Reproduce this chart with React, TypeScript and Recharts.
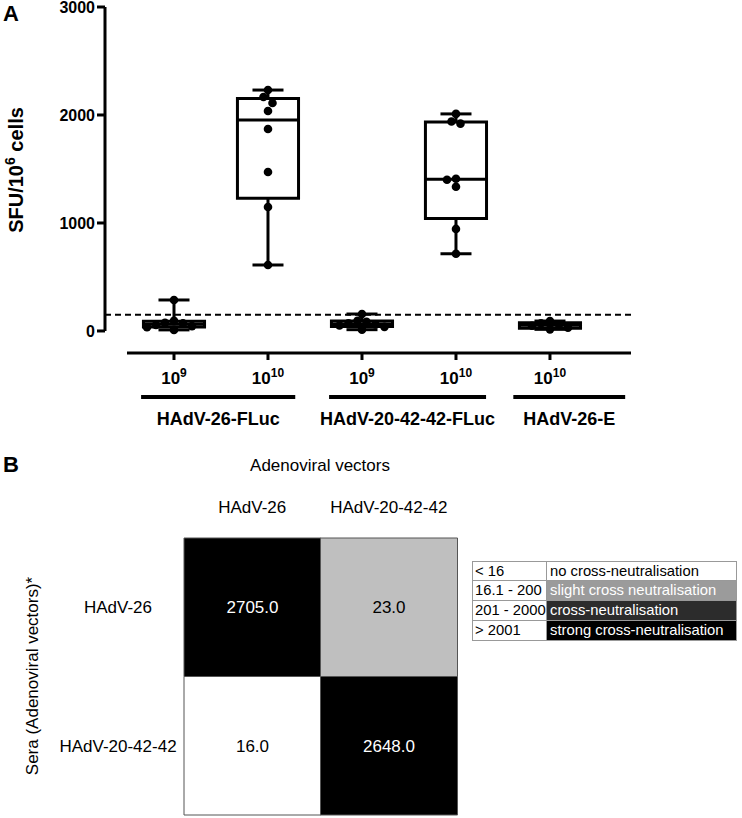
import React from "react";
import {
  ComposedChart, Scatter, XAxis, YAxis, ReferenceLine, ReferenceArea,
  BarChart, Bar, Cell, LabelList,
} from "recharts";

const FONT = "'Liberation Sans', Arial, Helvetica, sans-serif";

// ---- panel A: SFU per 10^6 cells, box + points ----
const groupNames = ["HAdV-26-FLuc", "HAdV-20-42-42-FLuc", "HAdV-26-E"];
const doseExponents = ["9", "10", "9", "10", "10"];
const yTicks = [0, 1000, 2000, 3000];
const cutoff = 150;

const sfu26Low = [287, 95, 75, 70, 55, 45, 35, 10];
const sfu26High = [2231, 2167, 2111, 2037, 1870, 1472, 1148, 611];
const sfu2042Low = [157, 95, 85, 70, 60, 50, 38, 12];
const sfu2042High = [2010, 1940, 1920, 1410, 1400, 1335, 945, 715];
const sfu26E = [92, 72, 60, 48, 30, 15];
const columns = [sfu26Low, sfu26High, sfu2042Low, sfu2042High, sfu26E];

// ---- panel B: cross-neutralisation titers ----
const vectorCols = ["HAdV-26", "HAdV-20-42-42"];
const seraRows = ["HAdV-26", "HAdV-20-42-42"];
const titerSera26 = [2705.0, 23.0];
const titerSera2042 = [16.0, 2648.0];
const legendRanges = ["< 16", "16.1 - 200", "201 - 2000", "> 2001"];
const legendLabels = [
  "no cross-neutralisation",
  "slight cross neutralisation",
  "cross-neutralisation",
  "strong cross-neutralisation",
];
const legendColors = ["#ffffff", "#9b9b9b", "#2c2c2c", "#000000"];

// layout bits
const X_DOMAIN: [number, number] = [-0.734, 4.862];
const Y_DOMAIN: [number, number] = [-204, 3000];
const GROUP_SPANS = [[-0.35, 1.29], [1.65, 3.32], [3.61, 4.8]];
const GROUP_LINE_Y = -611;
const PX_X = 94;
const PX_Y = 0.108;

function quantile(s: number[], p: number) {
  const pos = (s.length + 1) * p - 1;
  const lo = Math.min(s.length - 1, Math.max(0, Math.floor(pos)));
  const hi = Math.min(s.length - 1, lo + 1);
  const f = Math.max(0, pos - Math.floor(pos));
  return s[lo] + (s[hi] - s[lo]) * f;
}

// simple beeswarm so dots don't sit on top of each other
function swarm(values: number[]) {
  const placed: { dx: number; py: number }[] = [];
  const out: { v: number; dx: number }[] = [];
  [...values].sort((a, b) => b - a).forEach((v) => {
    const py = v * PX_Y;
    for (let k = 0; k < 30; k++) {
      const dx = k === 0 ? 0 : (k % 2 ? -1 : 1) * Math.ceil(k / 2) * 4.5;
      if (placed.every((p) => Math.hypot(p.dx - dx, p.py - py) >= 8)) {
        placed.push({ dx, py });
        out.push({ v, dx });
        break;
      }
    }
  });
  return out;
}

const stats = columns.map((vals) => {
  const s = [...vals].sort((a, b) => a - b);
  return { min: s[0], max: s[s.length - 1], q1: quantile(s, 0.25), med: quantile(s, 0.5), q3: quantile(s, 0.75) };
});

const points = columns.flatMap((vals, i) =>
  swarm(vals).map((p) => ({ x: i + p.dx / PX_X, y: p.v })));

const heatData = vectorCols.map((c, i) => ({
  col: c, cellTop: 1, cellBottom: 1, tTop: titerSera26[i], tBottom: titerSera2042[i],
}));

const fillFor = (t: number) => (t <= 16 ? "#ffffff" : t <= 200 ? "#bfbfbf" : t <= 2000 ? "#2c2c2c" : "#000000");
const textFor = (t: number) => (t > 200 ? "#ffffff" : "#000000");

function DoseTick({ x, y, payload }: any) {
  return (
    <text x={x} y={y + 22} textAnchor="middle" fontFamily={FONT} fontWeight={700} fontSize={17} fill="#000">
      10<tspan dy={-7} fontSize={12}>{doseExponents[payload.value]}</tspan>
    </text>
  );
}

function ColTick({ x, payload }: any) {
  return (
    <text x={x} y={67} dy="0.35em" textAnchor="middle" fontFamily={FONT} fontSize={17} fill="#000">
      {payload.value}
    </text>
  );
}

function RowTick({ y, payload }: any) {
  return (
    <text x={118} y={y} dy="0.35em" textAnchor="middle" fontFamily={FONT} fontSize={17} fill="#000">
      {payload.value > 1 ? seraRows[0] : seraRows[1]}
    </text>
  );
}

function CellLabel({ x, y, width, height, value }: any) {
  return (
    <text x={x + width / 2} y={y + height / 2} dy="0.35em" textAnchor="middle"
      fontFamily={FONT} fontSize={17} fill={textFor(value)}>
      {Number(value).toFixed(1)}
    </text>
  );
}

const axisStroke = { stroke: "#000", strokeWidth: 3 };

export default function App() {
  return (
    <div style={{ position: "absolute", left: 0, top: 0, width: 742, height: 818, background: "#fff", fontFamily: FONT }}>
      <div style={{ position: "absolute", left: 0, top: 0 }}>
        <ComposedChart width={742} height={440} margin={{ top: 7, right: 111, bottom: 57, left: 45 }}>
          <XAxis type="number" dataKey="x" domain={X_DOMAIN} ticks={[0, 1, 2, 3, 4]} interval={0}
            allowDataOverflow axisLine={false} tickLine={axisStroke} tickSize={7} height={30} tick={<DoseTick />} />
          <YAxis type="number" dataKey="y" domain={Y_DOMAIN} ticks={yTicks} interval={0} allowDataOverflow
            axisLine={false} tickLine={axisStroke} tickSize={8} width={60}
            tick={{ fontFamily: FONT, fontWeight: 700, fontSize: 16, fill: "#000" }} />

          {/* offset axes, Prism style */}
          <ReferenceLine ifOverflow="visible" segment={[{ x: X_DOMAIN[0], y: 0 }, { x: X_DOMAIN[0], y: 3000 }]}
            stroke="#000" strokeWidth={3} />
          <ReferenceLine ifOverflow="visible" segment={[{ x: -0.5, y: Y_DOMAIN[0] }, { x: X_DOMAIN[1], y: Y_DOMAIN[0] }]}
            stroke="#000" strokeWidth={3} />
          <ReferenceLine y={cutoff} stroke="#000" strokeWidth={2} strokeDasharray="6 4" />

          {stats.map((s, i) => (
            <ReferenceArea key={"box" + i} x1={i - 0.325} x2={i + 0.325} y1={s.q1} y2={s.q3}
              ifOverflow="visible" fill="none" stroke="#000" strokeWidth={3} />
          ))}
          {stats.flatMap((s, i) => [
            <ReferenceLine key={"m" + i} ifOverflow="visible" segment={[{ x: i - 0.325, y: s.med }, { x: i + 0.325, y: s.med }]} stroke="#000" strokeWidth={3} />,
            <ReferenceLine key={"wl" + i} ifOverflow="visible" segment={[{ x: i, y: s.min }, { x: i, y: s.q1 }]} stroke="#000" strokeWidth={3} />,
            <ReferenceLine key={"wh" + i} ifOverflow="visible" segment={[{ x: i, y: s.q3 }, { x: i, y: s.max }]} stroke="#000" strokeWidth={3} />,
            <ReferenceLine key={"cl" + i} ifOverflow="visible" segment={[{ x: i - 0.165, y: s.min }, { x: i + 0.165, y: s.min }]} stroke="#000" strokeWidth={3} />,
            <ReferenceLine key={"ch" + i} ifOverflow="visible" segment={[{ x: i - 0.165, y: s.max }, { x: i + 0.165, y: s.max }]} stroke="#000" strokeWidth={3} />,
          ])}

          {GROUP_SPANS.map((sp, i) => (
            <ReferenceLine key={"g" + i} ifOverflow="visible"
              segment={[{ x: sp[0], y: GROUP_LINE_Y }, { x: sp[1], y: GROUP_LINE_Y }]}
              stroke="#000" strokeWidth={4}
              label={{ value: groupNames[i], position: "bottom", offset: 15, fill: "#000",
                fontFamily: FONT, fontWeight: 700, fontSize: 18 }} />
          ))}

          <Scatter data={points} fill="#000" isAnimationActive={false}
            shape={(p: any) => <circle cx={p.cx} cy={p.cy} r={4.3} fill="#000" />} />
        </ComposedChart>
      </div>

      <div style={{ position: "absolute", left: 0, top: 440 }}>
        <BarChart width={742} height={378} data={heatData} barCategoryGap={0} barGap={0}
          margin={{ top: 58, right: 285, bottom: 3, left: 44 }}>
          <XAxis dataKey="col" orientation="top" height={40} axisLine={false} tickLine={false} tick={<ColTick />} />
          <YAxis type="number" domain={[0, 2]} ticks={[0.5, 1.5]} width={140} axisLine={false} tickLine={false}
            tick={<RowTick />} />
          <Bar dataKey="cellBottom" stackId="h" isAnimationActive={false}>
            {heatData.map((d, i) => <Cell key={i} fill={fillFor(d.tBottom)} stroke="#555" strokeWidth={1} />)}
            <LabelList dataKey="tBottom" content={<CellLabel />} />
          </Bar>
          <Bar dataKey="cellTop" stackId="h" isAnimationActive={false}>
            {heatData.map((d, i) => <Cell key={i} fill={fillFor(d.tTop)} stroke="#555" strokeWidth={1} />)}
            <LabelList dataKey="tTop" content={<CellLabel />} />
          </Bar>
          <text x={320} y={25} dy="0.35em" textAnchor="middle" fontFamily={FONT} fontSize={17} fill="#000">
            Adenoviral vectors
          </text>
          <text transform="translate(32,236) rotate(-90)" dy="0.35em" textAnchor="middle" fontFamily={FONT} fontSize={17} fill="#000">
            Sera (Adenoviral vectors)*
          </text>
        </BarChart>
      </div>

      {/* threshold legend */}
      <div style={{ position: "absolute", left: 472, top: 561, width: 265, fontSize: 14.8, lineHeight: "19px" }}>
        {legendRanges.map((r, i) => (
          <div key={i} style={{ display: "flex", height: 20 }}>
            <div style={{ width: 75, boxSizing: "border-box", border: "1px solid #999", borderTop: i ? "none" : "1px solid #999",
              padding: "0 2px", background: "#fff", color: "#000", whiteSpace: "nowrap" }}>{r}</div>
            <div style={{ width: 190, boxSizing: "border-box", border: "1px solid #999", borderLeft: "none",
              borderTop: i ? "none" : "1px solid #999", padding: "0 3px", background: legendColors[i],
              color: i ? "#fff" : "#000", whiteSpace: "nowrap" }}>{legendLabels[i]}</div>
          </div>
        ))}
      </div>

      <svg width={742} height={818} style={{ position: "absolute", left: 0, top: 0, pointerEvents: "none" }}>
        <text x={3} y={21} fontFamily={FONT} fontWeight={700} fontSize={22} fill="#000">A</text>
        <text x={3} y={472} fontFamily={FONT} fontWeight={700} fontSize={22} fill="#000">B</text>
        <text transform="translate(16,170) rotate(-90)" dy="0.35em" textAnchor="middle" fontFamily={FONT}
          fontWeight={700} fontSize={20} fill="#000">
          SFU/10<tspan dy={-8} fontSize={14}>6</tspan><tspan dy={8}> cells</tspan>
        </text>
      </svg>
    </div>
  );
}
